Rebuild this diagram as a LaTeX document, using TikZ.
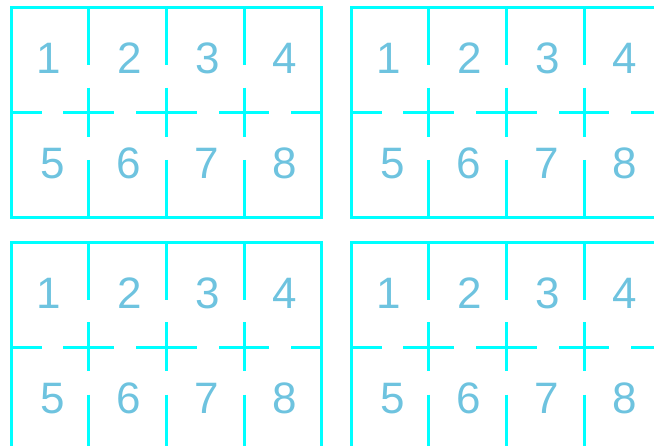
\documentclass[tikz,border=0pt]{standalone}
\usepackage{fontspec}
\setmainfont{Liberation Sans}
\definecolor{gridcyan}{HTML}{00FFFF}
\definecolor{digitblue}{HTML}{6EC3DF}
\begin{document}
\begin{tikzpicture}[x=1pt,y=-1pt,
  gridline/.style={draw=gridcyan,line width=3pt},
  digit/.style={text=digitblue,font=\fontsize{44}{44}\selectfont,anchor=base,inner sep=0pt}]
\useasboundingbox (0,0) rectangle (654,446);
\clip (0,0) rectangle (654,446);
\foreach \ox/\oy/\g in {11/7.7/a, 351/7.7/b, 11/242.3/c, 351/242.3/d} {
  \begin{scope}[shift={(\ox,\oy)}]
    \draw[gridline] (0,0) rectangle (310.5,209.5);
    \foreach \vx in {77.7,155.3,233} {
      \draw[gridline] (\vx,0) -- (\vx,57.3) (\vx,80) -- (\vx,129) (\vx,152.3) -- (\vx,209.5);
    }
    \draw[gridline] (0,105) -- (30.7,105) (52.3,105) -- (102.7,105) (125,105) -- (185.7,105)
      (208,105) -- (257.7,105) (280,105) -- (310.5,105);
    \foreach \d/\px/\py in {1/38/66.3, 2/119/66.3, 3/196.5/66.3, 4/274/66.3,
                            5/41.5/170.8, 6/118/170.8, 7/196/170.8, 8/273.5/170.8} {
      \node[digit] (\g-\d) at (\px,\py) {\d};
    }
  \end{scope}
}
\end{tikzpicture}
\end{document}
